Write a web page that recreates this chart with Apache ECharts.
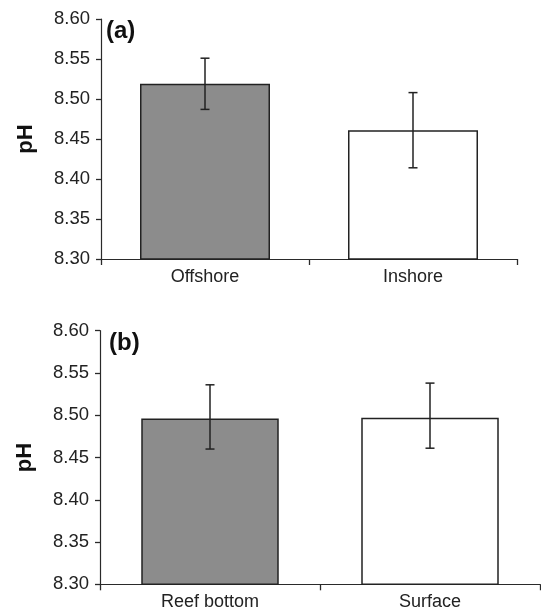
<!DOCTYPE html>
<html>
<head>
<meta charset="utf-8">
<script src="https://cdn.jsdelivr.net/npm/echarts@6/dist/echarts.min.js"></script>
<style>
html,body{margin:0;padding:0;background:#fff;}
#c{width:541px;height:609px;}
</style>
</head>
<body>
<div id="c"></div>
<script>
// Panel (a)
const catsA = ['Offshore', 'Inshore'];
const meansA = [8.519, 8.461];
const errLowA = [8.487, 8.414];
const errHighA = [8.551, 8.508];
// Panel (b)
const catsB = ['Reef bottom', 'Surface'];
const meansB = [8.496, 8.497];
const errLowB = [8.460, 8.461];
const errHighB = [8.536, 8.538];
// Axis
const yMin = 8.30, yMax = 8.60, yStep = 0.05;
const barColors = ['#8c8c8c', '#ffffff'];
const panelLabels = ['(a)', '(b)'];
const yName = 'pH';

const FONT = '"Liberation Sans", Arial, Helvetica, sans-serif';
const AX = '#2a2a2a';

function errRender(params, api) {
  const x = api.value(0);
  const lo = api.coord([x, api.value(1)]);
  const hi = api.coord([x, api.value(2)]);
  const hw = 4.5;
  const st = { stroke: '#222', lineWidth: 1.5 };
  return {
    type: 'group',
    children: [
      { type: 'line', shape: { x1: lo[0], y1: lo[1], x2: hi[0], y2: hi[1] }, style: st },
      { type: 'line', shape: { x1: hi[0] - hw, y1: hi[1], x2: hi[0] + hw, y2: hi[1] }, style: st },
      { type: 'line', shape: { x1: lo[0] - hw, y1: lo[1], x2: lo[0] + hw, y2: lo[1] }, style: st }
    ]
  };
}

function xAxisFor(idx, cats, margin) {
  return {
    type: 'category', gridIndex: idx, data: cats,
    axisLine: { lineStyle: { color: AX, width: 1.2 } },
    axisTick: { show: true, length: 6, inside: false, lineStyle: { color: AX, width: 1.3 } },
    axisLabel: { color: '#222', fontFamily: FONT, fontSize: 18, margin: margin }
  };
}
function yAxisFor(idx) {
  return {
    type: 'value', gridIndex: idx, min: yMin, max: yMax, interval: yStep,
    name: yName, nameLocation: 'middle', nameRotate: 90, nameGap: 64,
    nameTextStyle: { fontFamily: FONT, fontSize: 22, fontWeight: 'bold', color: '#111' },
    axisLine: { show: true, lineStyle: { color: AX, width: 1.2 } },
    axisTick: { show: true, length: 5, lineStyle: { color: AX, width: 1.3 } },
    splitLine: { show: false },
    axisLabel: { color: '#222', fontFamily: FONT, fontSize: 18.5, margin: 11,
      formatter: v => v.toFixed(2) }
  };
}
function barData(means) {
  return means.map((v, i) => ({ value: v, itemStyle: { color: barColors[i] } }));
}
function errData(lo, hi) {
  return lo.map((l, i) => [i, l, hi[i]]);
}

const chart = echarts.init(document.getElementById('c'), null, { renderer: 'canvas' });
chart.setOption({
  animation: false,
  backgroundColor: '#fff',
  title: [
    { text: panelLabels[0], left: 106, top: 19, padding: 0,
      textStyle: { fontFamily: FONT, fontSize: 24, fontWeight: 'bold', color: '#111' } },
    { text: panelLabels[1], left: 109, top: 331, padding: 0,
      textStyle: { fontFamily: FONT, fontSize: 24, fontWeight: 'bold', color: '#111' } }
  ],
  grid: [
    { left: 101, top: 19, width: 416, height: 240, containLabel: false, outerBoundsMode: 'none' },
    { left: 100, top: 330.7, width: 440, height: 253.6, containLabel: false, outerBoundsMode: 'none' }
  ],
  xAxis: [xAxisFor(0, catsA, 9), xAxisFor(1, catsB, 9)],
  yAxis: [yAxisFor(0), yAxisFor(1)],
  series: [
    { type: 'bar', xAxisIndex: 0, yAxisIndex: 0, barWidth: '62.5%', data: barData(meansA),
      itemStyle: { borderColor: '#222', borderWidth: 1.5 } },
    { type: 'custom', xAxisIndex: 0, yAxisIndex: 0, renderItem: errRender, data: errData(errLowA, errHighA), z: 5 },
    { type: 'bar', xAxisIndex: 1, yAxisIndex: 1, barWidth: '62.5%', data: barData(meansB),
      itemStyle: { borderColor: '#222', borderWidth: 1.5 } },
    { type: 'custom', xAxisIndex: 1, yAxisIndex: 1, renderItem: errRender, data: errData(errLowB, errHighB), z: 5 }
  ]
});
</script>
</body>
</html>
